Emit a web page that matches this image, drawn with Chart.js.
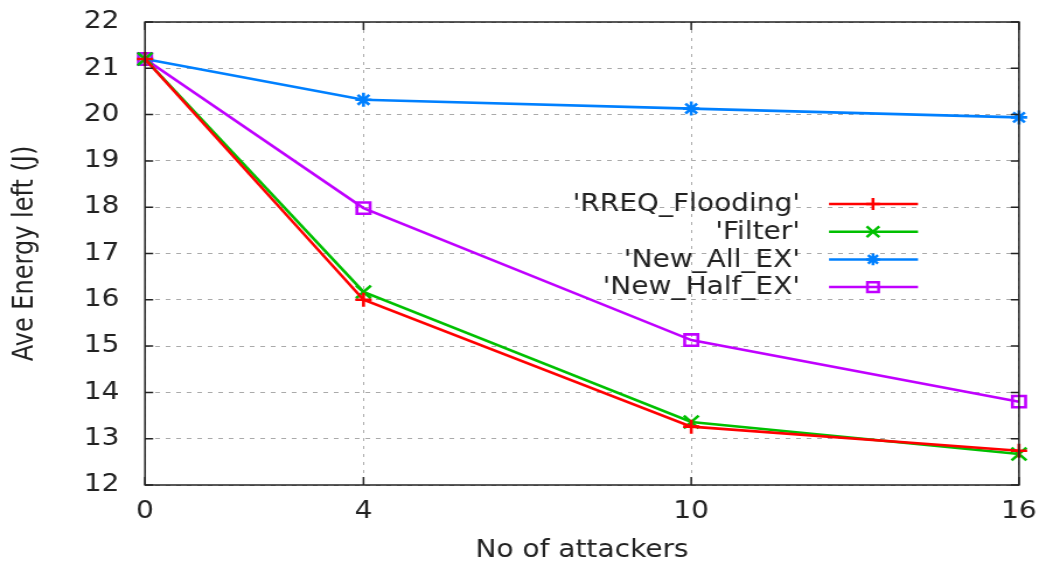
<!DOCTYPE html>
<html>
<head>
<meta charset="utf-8">
<script src="https://cdn.jsdelivr.net/npm/chart.js@4"></script>
<style>
  html, body { margin: 0; padding: 0; background: #fff; overflow: hidden; }
</style>
</head>
<body>
<!-- the source picture is stretched sideways, so the canvas is drawn narrower and scaled up -->
<canvas id="c" width="890" height="567" style="display:block;width:1039px;height:567px"></canvas>
<script>
// values
const attackers   = [0, 4, 10, 16];
const rreqFlood   = [21.2, 16.0, 13.26, 12.74];
const filterVals  = [21.2, 16.17, 13.36, 12.67];
const newAllEx    = [21.2, 20.32, 20.13, 19.94];
const newHalfEx   = [21.2, 17.98, 15.13, 13.8];
const yTicks      = [12, 13, 14, 15, 16, 17, 18, 19, 20, 21, 22];

const FONT = 'DejaVu Sans';
const SX = 890 / 1039;   // css stretch factor

const series = [
  { label: "'RREQ_Flooding'", data: rreqFlood,  color: '#ff0000', style: 'cross',    r: 7 },
  { label: "'Filter'",        data: filterVals, color: '#00c000', style: 'crossRot', r: 9 },
  { label: "'New_All_EX'",    data: newAllEx,   color: '#0080ff', style: 'star',     r: 7 },
  { label: "'New_Half_EX'",   data: newHalfEx,  color: '#c000ff', style: 'rect',     r: 8 },
];

// gnuplot-like frame, inward ticks on all four sides, and the key
const framePlugin = {
  id: 'frame',
  afterDraw(chart) {
    const { ctx, chartArea: a, scales } = chart;
    ctx.save();
    ctx.strokeStyle = '#222';
    ctx.lineWidth = 1.5;
    ctx.strokeRect(a.left, a.top, a.right - a.left, a.bottom - a.top);
    ctx.beginPath();
    yTicks.forEach(v => {
      const y = scales.y.getPixelForValue(v);
      ctx.moveTo(a.left, y);  ctx.lineTo(a.left + 7, y);
      ctx.moveTo(a.right, y); ctx.lineTo(a.right - 7, y);
    });
    attackers.forEach(v => {
      const x = scales.x.getPixelForValue(v);
      ctx.moveTo(x, a.bottom); ctx.lineTo(x, a.bottom - 8);
      ctx.moveTo(x, a.top);    ctx.lineTo(x, a.top + 8);
    });
    ctx.stroke();

    // key
    ctx.font = '24px ' + FONT;
    ctx.textAlign = 'right';
    ctx.textBaseline = 'middle';
    series.forEach((s, i) => {
      const y = 204 + i * 27.7;
      ctx.fillStyle = '#222';
      ctx.fillText(s.label, 800 * SX, y + 1);
      ctx.strokeStyle = s.color;
      ctx.lineWidth = 2.5;
      ctx.beginPath();
      ctx.moveTo(829 * SX, y); ctx.lineTo(918 * SX, y);
      ctx.stroke();
      ctx.fillStyle = s.style === 'rect' ? 'rgba(0,0,0,0)' : s.color;
      Chart.helpers.drawPoint(ctx, {
        pointStyle: s.style, radius: s.r * 0.85, borderWidth: 2.5, rotation: 0
      }, 873 * SX, y);
    });
    ctx.restore();
  }
};

new Chart(document.getElementById('c'), {
  type: 'line',
  data: {
    datasets: series.map(s => ({
      label: s.label,
      data: attackers.map((x, i) => ({ x, y: s.data[i] })),
      borderColor: s.color,
      backgroundColor: s.color,
      borderWidth: 2.6,
      pointStyle: s.style,
      pointRadius: s.r,
      pointBorderWidth: 2.6,
      pointBackgroundColor: s.style === 'rect' ? 'rgba(0,0,0,0)' : s.color,
      tension: 0,
      clip: false,
    }))
  },
  options: {
    responsive: false,
    animation: false,
    devicePixelRatio: 1,
    layout: { padding: { top: 22, right: 20 * SX, left: 0, bottom: 0 } },
    plugins: { legend: { display: false }, tooltip: { enabled: false } },
    scales: {
      x: {
        type: 'linear',
        min: 0, max: 16,
        afterBuildTicks: sc => { sc.ticks = attackers.map(v => ({ value: v })); },
        afterFit: sc => { sc.height = 82; sc.paddingLeft = 0; sc.paddingRight = 0; },
        grid: { color: '#aaa', lineWidth: 1, drawTicks: false },
        border: { display: false, dash: [3, 5] },
        ticks: { color: '#222', font: { family: FONT, size: 24 }, padding: 12, maxRotation: 0 },
        title: { display: true, text: 'No of attackers', color: '#222',
                 font: { family: FONT, size: 24 }, padding: { top: 0, bottom: 2 } }
      },
      y: {
        min: 12, max: 22,
        afterBuildTicks: sc => { sc.ticks = yTicks.map(v => ({ value: v })); },
        afterFit: sc => { sc.width = 145 * SX; sc.paddingTop = 0; sc.paddingBottom = 0; },
        grid: { color: '#aaa', lineWidth: 1, drawTicks: false },
        border: { display: false, dash: [4, 5] },
        ticks: { color: '#222', font: { family: FONT, size: 24 }, padding: 22 },
        title: { display: true, text: 'Ave Energy left (J)', color: '#222',
                 font: { family: FONT, size: 24 }, padding: { top: 7, bottom: 0 } }
      }
    }
  },
  plugins: [framePlugin]
});
</script>
</body>
</html>
